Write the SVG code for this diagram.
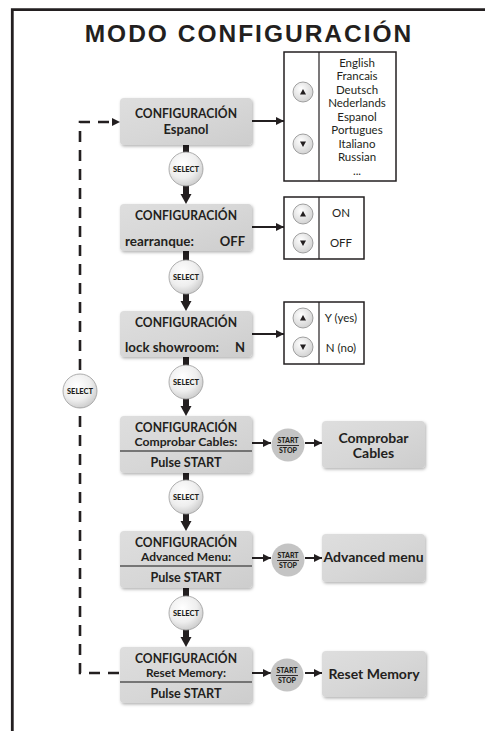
<svg xmlns="http://www.w3.org/2000/svg" width="485" height="731" viewBox="0 0 485 731">
<style>
text{font-family:Lato,"Open Sans","Liberation Sans",sans-serif;fill:#231f20}
.title{font-family:"Liberation Sans",Arial,sans-serif;font-weight:700;font-size:24.5px;letter-spacing:2px;text-anchor:middle}
.cfg{font-size:13px;font-weight:700;text-anchor:middle}
.l2{font-size:13px;font-weight:700}
.l2s{font-size:12px;font-weight:700;text-anchor:middle}
.ps{font-size:13px;font-weight:700;text-anchor:middle}
.res{font-size:14px;font-weight:700;text-anchor:middle}
.lst{font-size:11.5px;text-anchor:middle}
.sel{font-size:7.5px;font-weight:900;text-anchor:middle}
.ss{font-size:7px;font-weight:900;text-anchor:middle}
.node{fill:url(#ng);filter:url(#sh)}
.div{stroke:#555;stroke-width:1.5}
.box{fill:#fff;stroke:#231f20;stroke-width:1.5}
.bd{stroke:#231f20;stroke-width:1.2}
.btn{fill:url(#bg);stroke:#8a8a8a;stroke-width:0.8}
.tri{fill:#231f20}
.selc{fill:url(#sg);stroke:#9a9a9a;stroke-width:0.8}
.stc{fill:#c4c4c4}
.thick{stroke:#231f20;stroke-width:6;fill:none}
.thin{stroke:#231f20;stroke-width:2;fill:none}
.dash{stroke:#231f20;stroke-width:2.6;fill:none;stroke-dasharray:11 8}
.head{fill:#231f20}
</style>
<defs>
<linearGradient id="ng" x1="0" y1="0" x2="1" y2="1">
<stop offset="0" stop-color="#dedede"/>
<stop offset="0.5" stop-color="#d7d7d7"/>
<stop offset="1" stop-color="#cdcdcd"/>
</linearGradient>
<radialGradient id="sg" cx="0.4" cy="0.35" r="0.7">
<stop offset="0" stop-color="#ffffff"/>
<stop offset="0.6" stop-color="#eeeeee"/>
<stop offset="1" stop-color="#c9c9c9"/>
</radialGradient>
<radialGradient id="bg" cx="0.4" cy="0.35" r="0.7">
<stop offset="0" stop-color="#ffffff"/>
<stop offset="1" stop-color="#d0d0d0"/>
</radialGradient>
<filter id="sh" x="-10%" y="-10%" width="125%" height="130%">
<feDropShadow dx="1" dy="1.5" stdDeviation="1.5" flood-color="#000" flood-opacity="0.3"/>
</filter>
<marker id="ah" viewBox="0 0 8 8" refX="8" refY="4" markerWidth="8" markerHeight="8" markerUnits="userSpaceOnUse" orient="auto">
<path d="M0,0 L8,4 L0,8 z" fill="#231f20"/>
</marker>
</defs>

<!-- frame -->
<path d="M12.3,731 V9.7 H485" fill="none" stroke="#231f20" stroke-width="2.8"/>

<text class="title" x="249" y="42">MODO CONFIGURACIÓN</text>

<!-- connectors -->
<g id="connectors">
<line class="thick" x1="186" y1="145" x2="186" y2="153"/>
<line class="thick" x1="186" y1="185" x2="186" y2="195"/>
<polygon class="head" points="180.5,194 191.5,194 186,204"/>
<line class="thick" x1="186" y1="251" x2="186" y2="261"/>
<line class="thick" x1="186" y1="293" x2="186" y2="302"/>
<polygon class="head" points="180.5,301 191.5,301 186,311"/>
<line class="thick" x1="186" y1="357" x2="186" y2="366"/>
<line class="thick" x1="186" y1="398" x2="186" y2="407"/>
<polygon class="head" points="180.5,406 191.5,406 186,416"/>
<line class="thick" x1="186" y1="473" x2="186" y2="481"/>
<line class="thick" x1="186" y1="513" x2="186" y2="522"/>
<polygon class="head" points="180.5,521 191.5,521 186,531"/>
<line class="thick" x1="186" y1="588" x2="186" y2="597"/>
<line class="thick" x1="186" y1="629" x2="186" y2="638"/>
<polygon class="head" points="180.5,637 191.5,637 186,647"/>
<line class="thin" x1="252" y1="121" x2="284" y2="121" marker-end="url(#ah)"/>
<line class="thin" x1="252" y1="227" x2="284" y2="227" marker-end="url(#ah)"/>
<line class="thin" x1="252" y1="334" x2="284" y2="334" marker-end="url(#ah)"/>
<line class="thin" x1="252" y1="443" x2="271" y2="443" marker-end="url(#ah)"/>
<line class="thin" x1="305" y1="443" x2="322" y2="443" marker-end="url(#ah)"/>
<line class="thin" x1="252" y1="558" x2="271" y2="558" marker-end="url(#ah)"/>
<line class="thin" x1="305" y1="558" x2="322" y2="558" marker-end="url(#ah)"/>
<line class="thin" x1="252" y1="673" x2="271" y2="673" marker-end="url(#ah)"/>
<line class="thin" x1="305" y1="673" x2="322" y2="673" marker-end="url(#ah)"/>
<path class="dash" d="M119,673 H80 V122 H112"/>
<polygon class="head" points="112,118 120,122 112,126"/>
</g>

<g id="select1"><circle class="selc" cx="186" cy="169" r="17"/><text class="sel" x="186" y="171.7">SELECT</text></g>
<g id="select2"><circle class="selc" cx="186" cy="277" r="17"/><text class="sel" x="186" y="279.7">SELECT</text></g>
<g id="select3"><circle class="selc" cx="186" cy="382" r="17"/><text class="sel" x="186" y="384.7">SELECT</text></g>
<g id="select4"><circle class="selc" cx="186" cy="497" r="17"/><text class="sel" x="186" y="499.7">SELECT</text></g>
<g id="select5"><circle class="selc" cx="186" cy="613" r="17"/><text class="sel" x="186" y="615.7">SELECT</text></g>
<g id="select-loop"><circle class="selc" cx="80" cy="391" r="17"/><text class="sel" x="80" y="393.7">SELECT</text></g>

<g id="startstop1"><circle class="stc" cx="288" cy="445" r="16.5"/><text class="ss" x="288" y="443">START</text><line x1="277" y1="445.5" x2="299" y2="445.5" stroke="#231f20" stroke-width="0.9"/><text class="ss" x="288" y="452.5">STOP</text></g>
<g id="startstop2"><circle class="stc" cx="288" cy="560" r="16.5"/><text class="ss" x="288" y="558">START</text><line x1="277" y1="560.5" x2="299" y2="560.5" stroke="#231f20" stroke-width="0.9"/><text class="ss" x="288" y="567.5">STOP</text></g>
<g id="startstop3"><circle class="stc" cx="287" cy="675" r="16.5"/><text class="ss" x="287" y="673">START</text><line x1="276" y1="675.5" x2="298" y2="675.5" stroke="#231f20" stroke-width="0.9"/><text class="ss" x="287" y="682.5">STOP</text></g>

<g id="node-idioma">
<rect class="node" x="120" y="98" width="132" height="47" rx="4"/>
<text class="cfg" x="186" y="117.5" textLength="102" lengthAdjust="spacingAndGlyphs">CONFIGURACIÓN</text>
<text class="l2" x="186" y="134" text-anchor="middle">Espanol</text>
</g>
<g id="node-rearranque">
<rect class="node" x="120" y="204" width="132" height="47" rx="4"/>
<text class="cfg" x="186" y="219.5" textLength="102" lengthAdjust="spacingAndGlyphs">CONFIGURACIÓN</text>
<text class="l2" x="125" y="245.5" textLength="69" lengthAdjust="spacingAndGlyphs">rearranque:</text>
<text class="l2" x="245" y="245.5" text-anchor="end">OFF</text>
</g>
<g id="node-showroom">
<rect class="node" x="120" y="311" width="132" height="46" rx="4"/>
<text class="cfg" x="186" y="326.5" textLength="102" lengthAdjust="spacingAndGlyphs">CONFIGURACIÓN</text>
<text class="l2" x="125" y="351.5" textLength="94" lengthAdjust="spacingAndGlyphs">lock showroom:</text>
<text class="l2" x="245" y="351.5" text-anchor="end">N</text>
</g>
<g id="node-cables">
<rect class="node" x="120" y="416" width="132" height="57" rx="4"/>
<text class="cfg" x="186" y="431.5" textLength="102" lengthAdjust="spacingAndGlyphs">CONFIGURACIÓN</text>
<text class="l2s" x="186" y="446" textLength="103" lengthAdjust="spacingAndGlyphs">Comprobar Cables:</text>
<line class="div" x1="120" y1="451" x2="252" y2="451"/>
<text class="ps" x="186" y="467" textLength="71" lengthAdjust="spacingAndGlyphs">Pulse START</text>
</g>
<g id="node-advanced">
<rect class="node" x="120" y="531" width="132" height="57" rx="4"/>
<text class="cfg" x="186" y="546.5" textLength="102" lengthAdjust="spacingAndGlyphs">CONFIGURACIÓN</text>
<text class="l2s" x="186" y="561" textLength="90" lengthAdjust="spacingAndGlyphs">Advanced Menu:</text>
<line class="div" x1="120" y1="566" x2="252" y2="566"/>
<text class="ps" x="186" y="582" textLength="71" lengthAdjust="spacingAndGlyphs">Pulse START</text>
</g>
<g id="node-reset">
<rect class="node" x="120" y="647" width="132" height="56" rx="4"/>
<text class="cfg" x="186" y="662.5" textLength="102" lengthAdjust="spacingAndGlyphs">CONFIGURACIÓN</text>
<text class="l2s" x="186" y="677" textLength="80" lengthAdjust="spacingAndGlyphs">Reset Memory:</text>
<line class="div" x1="120" y1="682" x2="252" y2="682"/>
<text class="ps" x="186" y="697.5" textLength="71" lengthAdjust="spacingAndGlyphs">Pulse START</text>
</g>

<g id="res-cables">
<rect class="node" x="322" y="421" width="103" height="47" rx="4"/>
<text class="res" x="373.5" y="442.5">Comprobar</text>
<text class="res" x="373.5" y="458">Cables</text>
</g>
<g id="res-advanced">
<rect class="node" x="322" y="534" width="103" height="48" rx="4"/>
<text class="res" x="373.5" y="561.5">Advanced menu</text>
</g>
<g id="res-reset">
<rect class="node" x="322" y="651" width="104" height="46" rx="4"/>
<text class="res" x="374" y="678.5">Reset Memory</text>
</g>

<g id="opt-idioma">
<rect class="box" x="284" y="52" width="112" height="129"/>
<line class="bd" x1="319" y1="52" x2="319" y2="181"/>
<circle class="btn" cx="303" cy="92" r="10"/><polygon class="tri" points="300,94.5 306,94.5 303,89"/>
<circle class="btn" cx="303" cy="144" r="10"/><polygon class="tri" points="300,141.5 306,141.5 303,147"/>
<text class="lst" x="357" y="66.5">English</text>
<text class="lst" x="357" y="80">Francais</text>
<text class="lst" x="357" y="93.5">Deutsch</text>
<text class="lst" x="357" y="107">Nederlands</text>
<text class="lst" x="357" y="120.5">Espanol</text>
<text class="lst" x="357" y="134">Portugues</text>
<text class="lst" x="357" y="147.5">Italiano</text>
<text class="lst" x="357" y="161">Russian</text>
<text class="lst" x="357" y="174.5">...</text>
</g>
<g id="opt-rearranque">
<rect class="box" x="284" y="197" width="80" height="62"/>
<line class="bd" x1="319" y1="197" x2="319" y2="259"/>
<circle class="btn" cx="303" cy="214" r="10"/><polygon class="tri" points="300,216.5 306,216.5 303,211"/>
<circle class="btn" cx="303" cy="243" r="10"/><polygon class="tri" points="300,240.5 306,240.5 303,246"/>
<text class="lst" x="341" y="216.5">ON</text>
<text class="lst" x="341" y="246.5">OFF</text>
</g>
<g id="opt-showroom">
<rect class="box" x="284" y="302" width="80" height="62"/>
<line class="bd" x1="319" y1="302" x2="319" y2="364"/>
<circle class="btn" cx="303" cy="318" r="10"/><polygon class="tri" points="300,320.5 306,320.5 303,315"/>
<circle class="btn" cx="303" cy="347" r="10"/><polygon class="tri" points="300,344.5 306,344.5 303,350"/>
<text class="lst" x="341" y="321.5">Y (yes)</text>
<text class="lst" x="341" y="351.5">N (no)</text>
</g>
</svg>
